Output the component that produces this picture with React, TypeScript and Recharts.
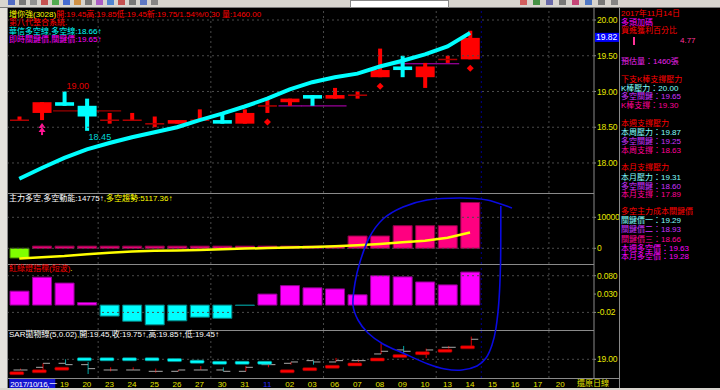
import React from "react";
import { Bar, Cell, ComposedChart, Line, ReferenceLine, Scatter, XAxis, YAxis } from "recharts";

const FONT = "'Liberation Sans','Noto Sans CJK TC',sans-serif";

// trading days 10/17 .. 11/14, then empty future slots
const days = ["17", "18", "19", "20", "23", "24", "25", "26", "27", "30", "31", "11", "02", "03", "06", "07", "08", "09", "10", "13", "14", "15", "16", "17", "20", "21"];

const opens = [18.6, 18.7, 18.85, 18.8, 18.6, 18.6, 18.55, 18.55, 18.6, 18.6, 18.55, 18.8, 18.85, 18.95, 18.9, 18.95, 19.2, 19.35, 19.2, 19.45, 19.45];
const highs = [18.65, 18.85, 19.0, 18.9, 18.7, 18.7, 18.65, 18.6, 18.75, 18.7, 18.75, 18.9, 18.9, 18.95, 19.05, 19.0, 19.6, 19.5, 19.4, 19.5, 19.85];
const lows = [18.6, 18.6, 18.8, 18.45, 18.55, 18.6, 18.5, 18.55, 18.6, 18.55, 18.55, 18.7, 18.8, 18.8, 18.9, 18.9, 19.2, 19.2, 19.05, 19.4, 19.45];
const closes = [18.6, 18.85, 18.8, 18.65, 18.6, 18.6, 18.55, 18.6, 18.6, 18.55, 18.7, 18.8, 18.9, 18.9, 18.95, 18.95, 19.3, 19.3, 19.35, 19.45, 19.75];

// 多空線
const longShort = [17.78, 17.93, 18.07, 18.19, 18.28, 18.36, 18.43, 18.5, 18.6, 18.69, 18.79, 18.9, 19.03, 19.13, 19.2, 19.25, 19.35, 19.43, 19.52, 19.63, 19.82];
// short flat key-price segments
const redLevel = [null, null, 18.73, 18.73, 18.73];
const purpleLevel = [null, null, null, null, null, null, null, null, null, null, null, null, 18.8, 18.8, 18.8, null, null, 19.39, 19.39, 19.39];
const buySignals = [1];
const diamondSlots = [11, 16, 20];
const highLabelSlot = 2;
const lowLabelSlot = 3;

// 主力多空
const power = [-3130, 700, 700, 700, 700, 700, 700, 700, 700, 700, 700, 700, 700, 700, 700, 3970, 3970, 7290, 7290, 7290, 14775];
const powerTrend = [-3290, -2870, -2480, -1900, -1420, -1060, -800, -680, -550, -320, -100, 60, 230, 420, 700, 1000, 1420, 1940, 2450, 3420, 5117.36];

// 紅綠燈指標(短波)
const lights = [0.038, 0.076, 0.06, 0.007, -0.03, -0.044, -0.054, -0.043, -0.033, -0.036, -0.001, 0.03, 0.053, 0.047, 0.044, 0.028, 0.08, 0.077, 0.063, 0.055, 0.09];

// SAR
const sar = [18.48, 18.55, 18.65, 19.0, 19.0, 19.0, 19.0, 18.97, 18.91, 18.87, 18.87, 18.87, 18.55, 18.63, 18.72, 18.81, 18.99, 19.12, 19.23, 19.32, 19.45];

const gridSlots = [3, 8, 13, 18, 23];
const todaySlot = 20;

const rows = days.map((d, i) => {
  const has = i < opens.length;
  return {
    key: `d${i}`,
    day: d,
    open: has ? opens[i] : null,
    high: has ? highs[i] : null,
    low: has ? lows[i] : null,
    close: has ? closes[i] : null,
    range: has ? [lows[i], highs[i]] : null,
    ls: longShort[i] ?? null,
    redLevel: redLevel[i] ?? null,
    purpleLevel: purpleLevel[i] ?? null,
    buy: buySignals.includes(i),
    diamond: diamondSlots.includes(i),
    hiLabel: i === highLabelSlot,
    loLabel: i === lowLabelSlot,
    power: power[i] ?? null,
    trend: powerTrend[i] ?? null,
    light: lights[i] ?? null,
    sar: sar[i] ?? null,
  };
});

const GRID = "#4a4a4a";
const DASH = "2 3";
const RED = "#ff0000";
const CYAN = "#00ffff";

const vGrid = () => [
  ...gridSlots.map((i) => (
    <ReferenceLine key={`v${i}`} x={`d${i}`} position="end" stroke={GRID} strokeDasharray={DASH} />
  )),
  <ReferenceLine key="today" x={`d${todaySlot}`} position="end" stroke="#00008c" strokeDasharray={DASH} />,
];

const hGrid = (vals: number[]) =>
  vals.map((v) => <ReferenceLine key={`h${v}`} y={v} stroke={GRID} strokeDasharray={DASH} />);

const yAxisProps = {
  orientation: "right" as const,
  width: 26,
  type: "number" as const,
  allowDataOverflow: true,
  interval: 0 as const,
  axisLine: { stroke: "#8a8a8a" },
  tickLine: { stroke: "#8a8a8a" },
  tickSize: 2,
  tickMargin: 1,
  tick: { fill: "#e6e600", fontSize: 8.5, fontFamily: FONT, letterSpacing: -0.2 },
};

const CandleShape = (props: any) => {
  const { x, y, width, height, payload } = props;
  if (!payload || payload.open == null) return null;
  const top = Math.min(y, y + height);
  const h = Math.abs(height);
  const { open, high, low, close } = payload;
  const py = (p: number) => top + ((high - p) / (high - low)) * h;
  const cx = x + width / 2;
  const bw = 19;
  const doji = Math.abs(close - open) < 0.001;
  const col = close >= open ? RED : CYAN;
  const out: React.ReactNode[] = [];
  if (payload.redLevel != null)
    out.push(<rect key="rl" x={x} y={py(payload.redLevel) - 0.5} width={width} height={1.2} fill="#a00000" />);
  if (payload.purpleLevel != null)
    out.push(<rect key="pl" x={x} y={py(payload.purpleLevel) - 0.5} width={width} height={1.2} fill="#a000a0" />);
  out.push(<rect key="w" x={cx - 2} y={py(high)} width={4} height={py(low) - py(high)} fill={col} />);
  if (doji) {
    out.push(<rect key="b" x={cx - bw / 2} y={py(open) - 0.6} width={bw} height={1.5} fill="#b00000" />);
  } else {
    const t = py(Math.max(open, close));
    out.push(<rect key="b" x={cx - bw / 2} y={t} width={bw} height={py(Math.min(open, close)) - t} fill={col} />);
  }
  if (payload.buy) {
    const t = py(low) + 3;
    out.push(
      <g key="buy" fill="#ff1493">
        <polygon points={`${cx},${t} ${cx + 3.5},${t + 5} ${cx - 3.5},${t + 5}`} />
        <polygon points={`${cx},${t + 4} ${cx + 3.5},${t + 9} ${cx - 3.5},${t + 9}`} />
        <rect x={cx - 1} y={t + 9} width={2} height={3} />
      </g>
    );
  }
  if (payload.diamond) {
    const c = py(low) + 9;
    out.push(<polygon key="dm" points={`${cx},${c - 3.5} ${cx + 3.5},${c} ${cx},${c + 3.5} ${cx - 3.5},${c}`} fill={RED} />);
  }
  if (payload.hiLabel)
    out.push(
      <text key="hl" x={cx + 2} y={py(high) - 2} fill="#e00000" fontSize={9} fontFamily={FONT}>
        {high.toFixed(2)}
      </text>
    );
  if (payload.loLabel)
    out.push(
      <text key="ll" x={cx + 1.5} y={py(low) + 9.5} fill="#00d8d8" fontSize={9} fontFamily={FONT}>
        {low.toFixed(2)}
      </text>
    );
  return <g>{out}</g>;
};

const OhlcShape = (props: any) => {
  const { x, y, width, height, payload } = props;
  if (!payload || payload.open == null) return null;
  const top = Math.min(y, y + height);
  const h = Math.abs(height);
  const { open, high, low, close } = payload;
  const py = (p: number) => top + ((high - p) / (high - low)) * h;
  const cx = x + width / 2 + 1;
  const col = close < open ? "#00a8a8" : "#e00000";
  return (
    <g>
      <line x1={cx} x2={cx} y1={py(high)} y2={py(low)} stroke={col} strokeWidth={1} />
      <line x1={cx - 7} x2={cx} y1={py(open)} y2={py(open)} stroke="#a8a8a8" />
      <line x1={cx} x2={cx + 7} y1={py(close)} y2={py(close)} stroke="#a8a8a8" />
    </g>
  );
};

const SarDash = (props: any) => {
  const { cx, cy, payload } = props;
  if (cx == null || cy == null || payload.sar == null) return null;
  const up = payload.sar < payload.close;
  return (
    <rect
      x={cx - 9.5}
      y={cy - 1.5}
      width={14}
      height={3}
      rx={1}
      fill={up ? "#ff0000" : "#00ffff"}
      stroke={up ? "#900000" : "#008888"}
      strokeWidth={0.6}
    />
  );
};

const DayTick = (props: any) => {
  const { x, y, payload } = props;
  const i = Number(String(payload.value).slice(1));
  if (i === 0)
    return (
      <g>
        <rect x={x - 10} y={y + 1} width={46} height={10} fill="#1414d0" />
        <text x={x - 9} y={y + 9} fill="#ffffff" fontSize={8} letterSpacing={-0.3} fontFamily={FONT}>
          2017/10/16,一
        </text>
      </g>
    );
  if (i === 1 || i > 24) return null;
  return (
    <text x={x} y={y + 9} textAnchor="middle" fill={i === 11 ? "#2828ff" : "#e6e600"} fontSize={8} fontFamily={FONT}>
      {days[i]}
    </text>
  );
};

const LineValueBox = (props: any) => {
  const vb = props.viewBox;
  if (!vb) return null;
  const bx = vb.x + vb.width + 1;
  return (
    <g>
      <rect x={bx} y={vb.y} width={24} height={9} fill="#0000ff" />
      <text x={bx + 1} y={vb.y + 7.5} fill="#ffffff" fontSize={8.5} fontFamily={FONT}>
        {longShort[longShort.length - 1].toFixed(2)}
      </text>
    </g>
  );
};

const Txt = ({ x, y, color, children }: { x: number; y: number; color: string; children: React.ReactNode }) => (
  <div
    style={{
      position: "absolute",
      left: x,
      top: y - 4,
      color,
      fontSize: 8,
      lineHeight: "8px",
      height: 8,
      whiteSpace: "nowrap",
      fontFamily: FONT,
    }}
  >
    {children}
  </div>
);

const HLine = ({ y, x1, x2 }: { y: number; x1: number; x2: number }) => (
  <div style={{ position: "absolute", left: x1, top: y, width: x2 - x1, height: 1, background: "#8a8a8a" }} />
);

const sideInfo: [number, string, string][] = [
  [14, "2017年11月14日", "#ff0000"],
  [22.5, "多頭加碼", "#ff00ff"],
  [31, "買進獲利百分比", "#ff0000"],
  [62, "預估量：1460張", "#ee22ee"],
  [80, "下支K棒支撐壓力", "#ff0000"],
  [88.5, "K棒壓力：20.00", "#80ffff"],
  [97, "多空關鍵：19.65", "#cc33ff"],
  [105.5, "K棒支撐：19.30", "#ff0099"],
  [124, "本週支撐壓力", "#ff0000"],
  [133, "本周壓力：19.87", "#80ffff"],
  [141.5, "多空關鍵：19.25", "#cc33ff"],
  [150.5, "本周支撐：18.63", "#ff0099"],
  [168, "本月支撐壓力", "#ff0000"],
  [178, "本月壓力：19.31", "#80ffff"],
  [186.5, "多空關鍵：18.60", "#cc33ff"],
  [195, "本月支撐：17.89", "#ff0099"],
  [212, "多空主力成本關鍵價", "#ff0000"],
  [221, "關鍵價一：19.29", "#80ffff"],
  [230, "關鍵價二：18.93", "#cc33ff"],
  [239.5, "關鍵價三：18.66", "#ff0099"],
  [248.5, "本週多空價：19.63", "#ff00ff"],
  [257, "本月多空價：19.28", "#ff00ff"],
];

const loopPts = [
  [512, 208], [487, 200], [460, 198], [427, 200], [403, 207], [383, 219], [369, 238], [360, 262],
  [355, 283], [353, 305], [358, 320], [368, 333], [383, 344], [405, 354], [428, 364], [445, 369],
  [462, 370], [477, 366], [486, 358], [492, 345], [496, 328], [499, 300], [500.5, 265], [500.8, 230], [500.8, 206],
];

const smooth = (pts: number[][]) => {
  let d = `M${pts[0][0]},${pts[0][1]}`;
  for (let i = 0; i < pts.length - 1; i++) {
    const p0 = pts[i - 1] || pts[i];
    const p1 = pts[i];
    const p2 = pts[i + 1];
    const p3 = pts[i + 2] || p2;
    const c1 = [p1[0] + (p2[0] - p0[0]) / 6, p1[1] + (p2[1] - p0[1]) / 6];
    const c2 = [p2[0] - (p3[0] - p1[0]) / 6, p2[1] - (p3[1] - p1[1]) / 6];
    d += ` C${c1[0]},${c1[1]} ${c2[0]},${c2[1]} ${p2[0]},${p2[1]}`;
  }
  return d;
};

const toolbarIcons = ["#3050c0", "#606060", "#808080", "#c03030", "#30a030", "#2050d0", "#d08020", "#606060", "#a040c0", "#3070d0", "#c03030", "#606060", "#4060c0", "#707070", "#d04040", "#208020", "#5050a0", "#606060", "#c02060", "#3060c0", "#606060", "#707070"];

const margin = { top: 0, right: 0, bottom: 0, left: 8 };

export default function App() {
  return (
    <div style={{ position: "absolute", left: 0, top: 0, width: 720, height: 390, background: "#000", overflow: "hidden", fontFamily: FONT }}>
      {/* toolbar */}
      <div style={{ position: "absolute", left: 0, top: 0, width: 720, height: 7, background: "#d8d5cf", borderBottom: "1px solid #7a7a7a" }}>
        {toolbarIcons.map((c, i) => (
          <div key={i} style={{ position: "absolute", left: 8 + i * (i < 14 ? 11 : 13) + (i >= 14 ? 330 : 0), top: 0, width: 7, height: 5, background: c, opacity: 0.8 }} />
        ))}
        <div style={{ position: "absolute", left: 350, top: 0, width: 97, height: 6, background: "#fff", border: "1px solid #888" }} />
      </div>
      {/* left strip */}
      <div style={{ position: "absolute", left: 0, top: 8, width: 7, height: 382, background: "#e4e2dd", borderRight: "1px solid #8a8a8a" }} />

      {/* price panel */}
      <div style={{ position: "absolute", left: 0, top: 8 }}>
        <ComposedChart width={620} height={185} data={rows} margin={margin} barCategoryGap={0}>
          <XAxis dataKey="key" hide />
          <YAxis {...yAxisProps} domain={[17.58, 20.168]} ticks={[18, 18.5, 19, 19.5, 20]} tickFormatter={(v: number) => v.toFixed(2)} />
          {hGrid([18, 18.5, 19, 19.5, 20])}
          {vGrid()}
          <Bar dataKey="range" isAnimationActive={false} shape={(p: any) => <CandleShape {...p} />} />
          <Line dataKey="ls" stroke={CYAN} strokeWidth={4} dot={false} isAnimationActive={false} connectNulls={false} />
          <ReferenceLine y={longShort[longShort.length - 1]} stroke="none" ifOverflow="visible" label={<LineValueBox />} />
        </ComposedChart>
      </div>

      {/* 主力多空 */}
      <div style={{ position: "absolute", left: 0, top: 193 }}>
        <ComposedChart width={620} height={71} data={rows} margin={margin} barCategoryGap={0}>
          <XAxis dataKey="key" hide />
          <YAxis {...yAxisProps} domain={[-5065, 17840]} ticks={[0, 10000]} />
          {hGrid([0, 10000])}
          {vGrid()}
          <Bar dataKey="power" barSize={19} isAnimationActive={false}>
            {rows.map((r) => (
              <Cell
                key={r.key}
                fill={(r.power ?? 0) < 0 ? "#80ff00" : "#ff0080"}
                stroke={(r.power ?? 0) < 0 ? "#408000" : "#900048"}
                strokeWidth={1}
              />
            ))}
          </Bar>
          <Line dataKey="trend" stroke="#ffff00" strokeWidth={2.5} dot={false} isAnimationActive={false} />
        </ComposedChart>
      </div>

      {/* 紅綠燈指標 */}
      <div style={{ position: "absolute", left: 0, top: 264 }}>
        <ComposedChart width={620} height={66} data={rows} margin={margin} barCategoryGap={0}>
          <XAxis dataKey="key" hide />
          <YAxis
            {...yAxisProps}
            domain={[-0.068, 0.112]}
            ticks={[0.08, 0.03, -0.02]}
            tickFormatter={(v: number) => (v < 0 ? v.toFixed(2) : v.toFixed(3))}
          />
          {hGrid([0.08, -0.02])}
          {vGrid()}
          <Bar dataKey="light" barSize={19} isAnimationActive={false}>
            {rows.map((r) => (
              <Cell
                key={r.key}
                fill={(r.light ?? 0) < 0 ? "#00ffff" : "#ff00ff"}
                stroke={(r.light ?? 0) < 0 ? "#008080" : "#900090"}
                strokeWidth={1}
              />
            ))}
          </Bar>
        </ComposedChart>
      </div>

      {/* SAR */}
      <div style={{ position: "absolute", left: 0, top: 330 }}>
        <ComposedChart width={620} height={60} data={rows} margin={margin} barCategoryGap={0}>
          <XAxis dataKey="key" height={12} interval={0} axisLine={false} tickLine={false} tickSize={0} tickMargin={0} tick={<DayTick />} />
          <YAxis {...yAxisProps} domain={[18.3, 20.097]} ticks={[19]} tickFormatter={(v: number) => v.toFixed(2)} />
          {hGrid([19])}
          {vGrid()}
          <Bar dataKey="range" isAnimationActive={false} shape={(p: any) => <OhlcShape {...p} />} />
          <Scatter dataKey="sar" isAnimationActive={false} shape={(p: any) => <SarDash {...p} />} />
        </ComposedChart>
      </div>

      {/* frame lines */}
      <HLine y={193} x1={8} x2={594} />
      <HLine y={264} x1={8} x2={594} />
      <HLine y={330} x1={8} x2={594} />
      <HLine y={378} x1={8} x2={620} />
      <div style={{ position: "absolute", left: 619, top: 8, width: 1, height: 380, background: "#8a8a8a" }} />
      <div style={{ position: "absolute", left: 0, top: 388, width: 720, height: 2, background: "#d8d5cf" }} />

      {/* price panel titles */}
      <Txt x={9} y={14.5} color="#ffff00">
        增你強(3028)<span style={{ color: "#ff0000" }}>開:19.45高:19.85低:19.45新:19.75/1.54%/0.30 量:1460.00</span>
      </Txt>
      <Txt x={9} y={23} color="#ff0000">第八代整合系統.</Txt>
      <Txt x={9} y={31.5} color="#00ffff">華信多空線,多空線:18.66↑</Txt>
      <Txt x={9} y={40} color="#ff00ff">即時關鍵價,關鍵價:19.65↑</Txt>

      <Txt x={9} y={199} color="#ffffff">
        主力多空,多空動能:14775↑<span style={{ color: "#ffff00" }}>,多空趨勢:5117.36↑</span>
      </Txt>
      <Txt x={9} y={269} color="#ff0000">
        紅綠燈指標(短波)<span style={{ color: "#ffff00" }}>.</span>
      </Txt>
      <Txt x={9} y={335} color="#ffffff">
        SAR拋物線(5,0.02)<span style={{ color: "#ffff00" }}>,</span>開:19.45,收:19.75↑,高:19.85↑,低:19.45↑
      </Txt>
      <Txt x={577} y={383.5} color="#e6e600">還原日線</Txt>

      {/* right info panel */}
      {sideInfo.map(([cy, t, c]) => (
        <Txt key={t + cy} x={621} y={cy} color={c}>
          {t}
        </Txt>
      ))}
      <div style={{ position: "absolute", left: 633, top: 37, width: 2, height: 8, background: "#ff3399" }} />
      <Txt x={680} y={41} color="#ff3399">4.77</Txt>

      {/* hand-drawn annotation loop */}
      <svg width={720} height={390} style={{ position: "absolute", left: 0, top: 0, pointerEvents: "none" }}>
        <path d={smooth(loopPts)} fill="none" stroke="#0a0ae0" strokeWidth={1.6} />
      </svg>
    </div>
  );
}
